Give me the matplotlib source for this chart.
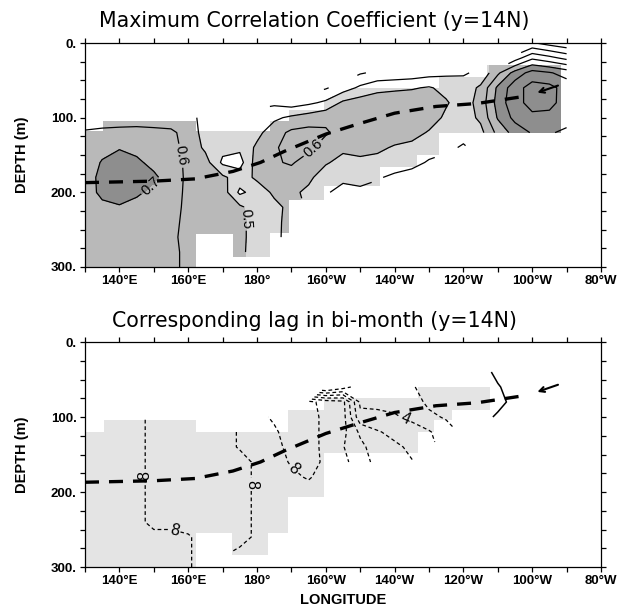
import numpy as np
import pandas as pd
import matplotlib
matplotlib.use('Agg')
import matplotlib.pyplot as plt
from matplotlib.path import Path
from matplotlib.patches import PathPatch

plt.rcParams['font.family'] = ['Liberation Sans', 'DejaVu Sans']

n = np.nan

# section grid: longitude (deg E) and depth (m)
lon = np.arange(130, 271, 5)
depth = np.arange(0, 301, 20)

# maximum correlation coefficient (rows = depth, cols = longitude)
corr = np.array([
    [n, n, n, n, n, n, n, n, n, n, n, n, n, n, n, n, n, n, n, n, n, n, n, n, n, n, .31, .26, .22],
    [n, n, n, n, n, n, n, n, n, n, n, n, n, n, n, n, n, n, n, n, n, n, n, n, n, .45, .58, .53, .47],
    [n, n, n, n, n, n, n, n, n, n, n, n, n, n, n, n, .29, .32, .33, .34, .36, .38, .39, .42, .58, .74, .84, .81, .76],
    [n, n, n, n, n, n, n, n, n, n, n, n, n, n, .29, .35, .42, .47, .48, .49, .51, .47, .44, .52, .72, .86, .94, .93, .86],
    [n, n, n, n, n, n, n, n, n, n, n, .38, .35, .38, .42, .52, .55, .56, .57, .57, .56, .51, .45, .54, .74, .87, .93, .92, .87],
    [.55, .53, .53, .54, .54, .54, .52, .48, .46, .46, .46, .48, .52, .55, .58, .58, .58, .58, .58, .57, .55, .48, .45, .52, .71, .83, .88, .88, .84],
    [.61, .63, .64, .64, .63, .62, .56, .46, .44, .45, .47, .56, .62, .63, .61, .57, .56, .56, .55, .54, .49, .45, .43, .47, .63, .74, .81, .81, .78],
    [.63, .66, .69, .67, .64, .63, .57, .48, .43, .42, .52, .59, .63, .62, .56, .52, .53, .52, .49, .47, .44, .42, .39, n, n, n, n, n, n],
    [.63, .71, .76, .72, .67, .64, .58, .54, .38, .36, .55, .59, .61, .56, .51, .47, .48, .47, .45, .43, .39, n, n, n, n, n, n, n, n],
    [.65, .73, .77, .75, .72, .65, .58, .57, .52, .45, .52, .57, .56, .52, .45, .42, .43, .41, .38, .36, n, n, n, n, n, n, n, n, n],
    [.64, .73, .75, .72, .67, .64, .58, .57, .55, .38, .44, .52, .52, .48, .41, .37, .38, n, n, n, n, n, n, n, n, n, n, n, n],
    [.63, .67, .69, .66, .65, .63, .58, .57, .57, .52, .45, .47, .53, n, n, n, n, n, n, n, n, n, n, n, n, n, n, n, n],
    [.62, .63, .64, .64, .64, .63, .57, .57, .57, .53, .45, .47, .54, n, n, n, n, n, n, n, n, n, n, n, n, n, n, n, n],
    [.61, .62, .63, .63, .63, .62, .57, .57, .56, .53, .45, .48, .53, n, n, n, n, n, n, n, n, n, n, n, n, n, n, n, n],
    [.61, .62, .63, .63, .64, .62, .58, .56, .56, .52, .46, n, n, n, n, n, n, n, n, n, n, n, n, n, n, n, n, n, n],
    [.61, .61, .62, .63, .66, .62, .58, .56, .56, n, n, n, n, n, n, n, n, n, n, n, n, n, n, n, n, n, n, n, n],
])

# corresponding lag in bi-months
lag = np.array([
    [n] * 29,
    [n] * 29,
    [n, n, n, n, n, n, n, n, n, n, n, n, n, n, n, n, n, n, n, n, n, n, n, .5, -.3, -.7, n, n, n],
    [n, n, n, n, n, n, n, n, n, n, n, n, n, n, 1.5, 2.5, 3.6, 3.7, 3.5, 3.1, 2.6, 2.4, 1.6, .6, .1, -.5, n, n, n],
    [n, n, n, n, n, n, n, n, n, n, n, n, n, 8.3, 7.6, 7.3, 3.8, 3.8, 3.7, 3.4, 2.8, 2.6, 2.2, .7, .4, -.4, n, n, n],
    [n, 7.6, 7.6, 7.6, 8.4, 8.4, 8.4, n, n, n, 7.8, 8.1, 8.3, 8.3, 7.8, 7.4, 4.3, 4.2, 4.1, 3.8, 3.2, 2.9, 2.3, .5, -.2, -.6, n, n, n],
    [7.6, 7.6, 7.6, 7.6, 8.4, 8.4, 8.4, 8.4, 8.4, 7.9, 7.8, 7.9, 8.3, 8.3, 7.8, 7.3, 5.8, 5.1, 4.7, 4.4, 4.1, 3.4, n, n, n, n, n, n, n],
    [7.6, 7.6, 7.6, 7.6, 8.4, 8.4, 8.4, 8.4, 8.4, 7.9, 7.8, 7.8, 8.2, 8.3, 7.8, 7.05, 6.3, 5.4, 5.2, 4.8, 4.3, n, n, n, n, n, n, n, n],
    [7.6, 7.6, 7.6, 7.6, 8.4, 8.4, 8.4, 8.4, 8.4, 8.4, 7.8, 7.8, 8.05, 8.2, 7.9, 7.2, 6.6, 5.6, 5.5, 5.05, n, n, n, n, n, n, n, n, n],
    [7.6, 7.6, 7.6, 7.6, 8.4, 8.4, 8.4, 8.4, 8.4, 8.4, 7.8, 7.8, 7.9, 8.05, 7.8, n, n, n, n, n, n, n, n, n, n, n, n, n, n],
    [7.6, 7.6, 7.6, 7.6, 8.4, 8.4, 8.4, 8.4, 8.4, 8.4, 7.8, 7.8, 7.8, 7.8, 7.6, n, n, n, n, n, n, n, n, n, n, n, n, n, n],
    [7.6, 7.6, 7.6, 7.6, 8.4, 8.4, 8.4, 8.4, 8.4, 8.4, 7.8, 7.8, n, n, n, n, n, n, n, n, n, n, n, n, n, n, n, n, n],
    [7.6, 7.6, 7.6, 7.6, 8.4, 8.4, 8.4, 8.4, 8.4, 8.4, 7.8, 7.8, n, n, n, n, n, n, n, n, n, n, n, n, n, n, n, n, n],
    [7.6, 7.6, 7.6, 7.6, 7.6, 7.6, 7.9, 8.4, 8.4, 8.4, 7.8, 7.8, n, n, n, n, n, n, n, n, n, n, n, n, n, n, n, n, n],
    [7.6, 7.6, 7.6, 7.6, 7.6, 7.6, 7.9, 8.4, 8.2, 7.8, 7.8, n, n, n, n, n, n, n, n, n, n, n, n, n, n, n, n, n, n],
    [7.6, 7.6, 7.6, 7.6, 7.6, 7.6, 7.9, 8.4, n, n, n, n, n, n, n, n, n, n, n, n, n, n, n, n, n, n, n, n, n],
])

# thick dashed line (thermocline depth), same in both panels
therm_lon = [130, 150, 162, 173, 181, 188, 200, 209, 220, 232, 244, 257]
therm_dep = [187, 185, 182, 172, 160, 145, 122, 109, 94, 85, 81, 72]
arrow_tail = (267.5, 57)
arrow_head = (261.5, 66.5)

# shaded (significant) region, given per longitude band: edges, top and bottom depth
top_edges = [130, 135.3, 162.3, 172.9, 183.8, 189.4, 199.5, 215.8, 226.4, 233.0, 246.8, 268.5]
top_tops = [118, 104, 118, 118, 104, 90, 60, 60, 60, 45, 30]
top_bots = [300, 300, 256, 286, 254, 210, 192, 166, 150, 120, 120]

bot_edges = [130, 135.5, 162.2, 172.6, 183.3, 188.9, 199.5, 226.8, 231.4, 236.6, 247.7]
bot_tops = [120, 104, 120, 120, 120, 90, 74, 60, 60, 60]
bot_bots = [300, 300, 254, 284, 254, 207, 148, 120, 104, 91]

corr_lines = [0.3, 0.4, 0.8, 0.9]
corr_labeled = [0.5, 0.6, 0.7]
corr_shade = [0.4, 0.5, 0.7, 1.01]
lag_lines = [3, 5, 6, 7]
lag_labeled = [4, 8]

xtick_pos = [140, 160, 180, 200, 220, 240, 260, 280]
xtick_lab = ['140°E', '160°E', '180°', '160°W', '140°W', '120°W', '100°W', '80°W']
ytick_pos = [0, 100, 200, 300]
ytick_lab = ['0.', '100.', '200.', '300.']


def band_path(edges, tops, bots):
    verts, codes = [], []
    for x0, x1, t, b in zip(edges[:-1], edges[1:], tops, bots):
        verts += [(x0, t), (x1, t), (x1, b), (x0, b), (x0, t)]
        codes += [Path.MOVETO, Path.LINETO, Path.LINETO, Path.LINETO, Path.CLOSEPOLY]
    return Path(verts, codes)


def style(ax):
    ax.set_xlim(130, 280)
    ax.set_ylim(300, 0)
    ax.set_xticks(xtick_pos)
    ax.set_xticklabels(xtick_lab)
    ax.set_xticks(np.arange(130, 281, 10), minor=True)
    ax.set_yticks(ytick_pos)
    ax.set_yticklabels(ytick_lab)
    ax.set_yticks(np.arange(0, 301, 25), minor=True)
    ax.tick_params(which='both', direction='out', top=True, right=True,
                   length=3.5, width=0.9, labelsize=9.5, pad=2.5)
    for lab in ax.get_xticklabels() + ax.get_yticklabels():
        lab.set_fontweight('bold')
    for s in ax.spines.values():
        s.set_linewidth(0.9)
    ax.set_ylabel('DEPTH (m)', fontsize=10.5, fontweight='bold')
    ax.yaxis.set_label_coords(-0.108, 0.5)


def thermocline(ax):
    ax.plot(therm_lon, therm_dep, color='k', lw=2.4, dashes=(4.2, 3.0), zorder=4)
    ax.annotate('', xy=arrow_head, xytext=arrow_tail, zorder=5,
                arrowprops=dict(arrowstyle='->', lw=1.5, color='k',
                                shrinkA=0, shrinkB=0, mutation_scale=9))


fig = plt.figure(figsize=(6.28, 6.15), dpi=100)
ax1 = fig.add_axes([85 / 628, 1 - 267 / 615, 516 / 628, 224 / 615])
ax2 = fig.add_axes([85 / 628, 1 - 567 / 615, 516 / 628, 225 / 615])
style(ax1)
style(ax2)

# top: shading of correlation inside the significant cells, then contours
corr_fill = pd.DataFrame(corr).ffill().bfill().ffill(axis=1).bfill(axis=1).to_numpy()
cf = ax1.contourf(lon, depth, corr_fill, levels=corr_shade,
                  colors=['#d9d9d9', '#b9b9b9', '#8e8e8e'], zorder=1)
cf.set_clip_path(PathPatch(band_path(top_edges, top_tops, top_bots), transform=ax1.transData))
ax1.contour(lon, depth, corr, levels=corr_lines, colors='k', linewidths=0.9, zorder=2)
cs1 = ax1.contour(lon, depth, corr, levels=corr_labeled, colors='k', linewidths=0.9, zorder=2)
ax1.clabel(cs1, fmt='%.1f', fontsize=10.5, inline=True, inline_spacing=2,
           manual=[(148, 186), (159, 150), (197, 145), (177, 235)])
thermocline(ax1)

# bottom: significant cells in light gray, lag contours dashed, zero line solid
ax2.add_patch(PathPatch(band_path(bot_edges, bot_tops, bot_bots), facecolor='#e4e4e4',
                        edgecolor='none', zorder=1))
cs2a = ax2.contour(lon, depth, lag, levels=lag_lines, colors='k', linewidths=0.9, zorder=2)
cs2 = ax2.contour(lon, depth, lag, levels=lag_labeled, colors='k', linewidths=0.9, zorder=2)
lbl = ax2.clabel(cs2, fmt='%d', fontsize=11.5, inline=True, inline_spacing=2,
                 manual=[(148, 178), (156, 250), (178.5, 190), (190.5, 170), (223, 104)])
for t in lbl:
    t.set_zorder(6)
for c in (cs2a, cs2):
    c.set_linestyle((0, (3.0, 2.2)))
ax2.contour(lon, depth, lag, levels=[0], colors='k', linewidths=1.1, zorder=2)
thermocline(ax2)
ax2.set_xlabel('LONGITUDE', fontsize=10.5, fontweight='bold')
ax2.xaxis.set_label_coords(0.5, -0.115)

fig.text(0.5, 1 - 21 / 615, 'Maximum Correlation Coefficient (y=14N)', ha='center', va='center',
         fontsize=14.8, family='DejaVu Sans')
fig.text(0.5, 1 - 321 / 615, 'Corresponding lag in bi-month (y=14N)', ha='center', va='center',
         fontsize=14.8, family='DejaVu Sans')

fig.savefig('out.png', dpi=100)
